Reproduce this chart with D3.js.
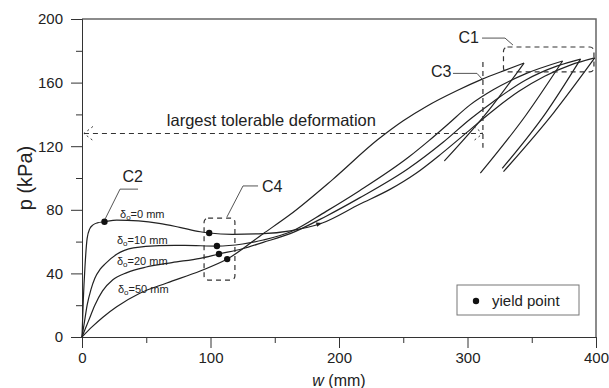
<!DOCTYPE html>
<html>
<head>
<meta charset="utf-8">
<script src="https://cdn.jsdelivr.net/npm/d3@7"></script>
<style>
  body { margin: 0; background: #fff; }
  svg { display: block; font-family: "Liberation Sans", Arial, sans-serif; }
</style>
</head>
<body>
<div id="chart"></div>
<script>
// loading curves, [w (mm), p (kPa)]
const load0 = [[0,0],[1,23],[2.3,44],[4,62],[6,68],[8.6,70.5],[12,71.8],[17.5,72.5],[27,73.5],[44,73],[60,71.5],[76,69],[92,66.2],[99,65.4],[117,64.6],[141,65],[162,66.8],[187,71.7],[216,83.5],[240,93],[260,103],[280,115.5],[300,129],[320,142.5],[340,154.5],[360,164],[380,171],[399,175.5]];
const load10 = [[0,0],[2,10],[4,20],[7,30],[10,37],[14,42.5],[18,46],[27,52],[40,56],[60,57.5],[80,57.6],[105,57.2],[125,58.5],[141,61],[162,66],[190,79],[216,92],[254,113],[270,123.5],[285,134],[302,146],[320,155.5],[345,165.5],[374,173.6]];
const load20 = [[0,0],[5,10],[10,20],[16,29],[24,36],[35,40.5],[50,44],[70,46.8],[92,49.5],[106.6,52.2],[125,55.5],[141,59.5],[162,65],[190,76],[216,87.5],[254,106],[281,122.5],[302,137],[320,148],[345,161.5],[370,170.5],[388,174.8]];
const load50 = [[0,0],[8,6.5],[16.5,12.6],[27,19],[45,27.5],[66,34],[92,41.5],[113,49],[141,65],[162,77],[195,99],[230,124],[250,136],[268,145],[292,155],[311,162],[330,168],[344,172.3]];

// unloading branches
const unload0 = [[328,104],[367,141],[399,175.5]];
const unload10 = [[310,103],[345,139],[374,173.6]];
const unload20 = [[327,106],[361,141],[388,174.8]];
const unload50 = [[282,110.7],[316,142],[344,172.3]];

const yieldPoints = [[17.5,72.5],[99,65.4],[105,57.2],[106.6,52.2],[113,49]];

const curveLabels = [
  { d: '0', w: 29.6, p: 75 },
  { d: '10', w: 27.2, p: 58.5 },
  { d: '20', w: 27.2, p: 45 },
  { d: '50', w: 28, p: 27.5 }
];

const xTicks = [0, 100, 200, 300, 400];
const xMinor = [50, 150, 250, 350];
const yTicks = [0, 40, 80, 120, 160, 200];
const yMinor = [20, 60, 100, 140, 180];

const width = 609, height = 388;
const margin = { top: 19, right: 13, bottom: 51, left: 82 };

const svg = d3.select('#chart').append('svg')
  .attr('width', width)
  .attr('height', height);

const x = d3.scaleLinear().domain([0, 400]).range([margin.left, width - margin.right]);
const y = d3.scaleLinear().domain([0, 200]).range([height - margin.bottom, margin.top]);

const ink = '#222';

// frame (top and right)
svg.append('path')
  .attr('d', `M${x(0)},${y(200)}H${x(400)}V${y(0)}`)
  .attr('fill', 'none')
  .attr('stroke', '#666')
  .attr('stroke-width', 1.5);

// axes
function styleAxis(g) {
  g.select('.domain').attr('stroke', '#333');
  g.selectAll('.tick line').attr('stroke', '#333');
  g.selectAll('.tick text').attr('fill', '#222').attr('font-size', '15px')
    .attr('font-family', '"Liberation Sans", Arial, sans-serif');
}

svg.append('g')
  .attr('transform', `translate(0,${y(0)})`)
  .call(d3.axisBottom(x).tickValues(xMinor).tickSize(6).tickFormat(''))
  .call(styleAxis);
svg.append('g')
  .attr('transform', `translate(0,${y(0)})`)
  .call(d3.axisBottom(x).tickValues(xTicks).tickSize(11).tickPadding(4).tickSizeOuter(0))
  .call(styleAxis);

svg.append('g')
  .attr('transform', `translate(${x(0)},0)`)
  .call(d3.axisLeft(y).tickValues(yMinor).tickSize(6).tickFormat(''))
  .call(styleAxis);
svg.append('g')
  .attr('transform', `translate(${x(0)},0)`)
  .call(d3.axisLeft(y).tickValues(yTicks).tickSize(11).tickPadding(8).tickSizeOuter(0))
  .call(styleAxis);

// axis titles
svg.append('text')
  .attr('transform', `translate(27,${(y(0) + y(200)) / 2}) rotate(-90)`)
  .attr('text-anchor', 'middle')
  .attr('dominant-baseline', 'middle')
  .attr('font-size', '20px')
  .attr('fill', '#222')
  .text('p (kPa)');

const xt = svg.append('text')
  .attr('x', (x(0) + x(400)) / 2)
  .attr('y', height - 2)
  .attr('text-anchor', 'middle')
  .attr('font-size', '16px')
  .attr('fill', '#222');
xt.append('tspan').attr('font-style', 'italic').text('w');
xt.append('tspan').text(' (mm)');

// curves
const line = d3.line()
  .x(d => x(d[0]))
  .y(d => y(d[1]))
  .curve(d3.curveMonotoneX);

[load0, load10, load20, load50, unload0, unload10, unload20, unload50].forEach(data => {
  svg.append('path')
    .datum(data)
    .attr('fill', 'none')
    .attr('stroke', ink)
    .attr('stroke-width', 1.2)
    .attr('d', line);
});

// direction arrow on the δo=0 curve
const arrowAt = load0.find(d => d[0] === 187);
svg.append('path')
  .attr('transform', `translate(${x(arrowAt[0])},${y(arrowAt[1])}) rotate(-16)`)
  .attr('d', 'M0,0 L-6,-2.2 L-6,2.2 Z')
  .attr('fill', ink);

// yield points
svg.selectAll('.yield')
  .data(yieldPoints)
  .enter()
  .append('circle')
  .attr('class', 'yield')
  .attr('cx', d => x(d[0]))
  .attr('cy', d => y(d[1]))
  .attr('r', 3.2)
  .attr('fill', '#111');

// δo labels
curveLabels.forEach(l => {
  const t = svg.append('text')
    .attr('x', x(l.w))
    .attr('y', y(l.p))
    .attr('font-size', '11px')
    .attr('fill', '#222');
  t.append('tspan').text('δ');
  t.append('tspan').attr('font-size', '8px').attr('dy', 2).text('o');
  t.append('tspan').attr('dy', -2).text(`=${l.d} mm`);
});

const dashed = { stroke: '#333', width: 1.2, dash: '5,4' };

// largest tolerable deformation arrow
const tol = { p: 128, w0: 1.5, w1: 312 };
svg.append('line')
  .attr('x1', x(tol.w0)).attr('x2', x(tol.w1))
  .attr('y1', y(tol.p)).attr('y2', y(tol.p))
  .attr('stroke', dashed.stroke)
  .attr('stroke-width', dashed.width)
  .attr('stroke-dasharray', dashed.dash);
[[x(tol.w0), 1], [x(tol.w1), -1]].forEach(([px, s]) => {
  svg.append('path')
    .attr('d', `M${px + s * 9},${y(tol.p) - 7}L${px},${y(tol.p)}L${px + s * 9},${y(tol.p) + 7}`)
    .attr('fill', 'none')
    .attr('stroke', dashed.stroke)
    .attr('stroke-width', 1)
    .attr('stroke-dasharray', '2,3');
});
svg.append('text')
  .attr('x', x(66))
  .attr('y', y(132.5))
  .attr('font-size', '16.5px')
  .attr('fill', '#222')
  .text('largest tolerable deformation');

// C3 vertical dashed line
svg.append('line')
  .attr('x1', x(312)).attr('x2', x(312))
  .attr('y1', y(173)).attr('y2', y(119))
  .attr('stroke', dashed.stroke)
  .attr('stroke-width', dashed.width)
  .attr('stroke-dasharray', dashed.dash);

// dashed boxes C1 and C4
function dashedBox(w0, w1, p0, p1) {
  svg.append('rect')
    .attr('x', x(w0)).attr('y', y(p1))
    .attr('width', x(w1) - x(w0))
    .attr('height', y(p0) - y(p1))
    .attr('rx', 4)
    .attr('fill', 'none')
    .attr('stroke', dashed.stroke)
    .attr('stroke-width', dashed.width)
    .attr('stroke-dasharray', dashed.dash);
}
dashedBox(95, 119, 35.8, 74.8);
dashedBox(328, 398.4, 166.7, 182.4);

// callout labels
const callouts = [
  { text: 'C1', tw: 293, tp: 185, path: [[311.3, 188], [329.2, 188], [335.4, 183.6]] },
  { text: 'C2', tw: 31.5, tp: 97.5, path: [[43.6, 93], [29.6, 93], [18, 74.2]] },
  { text: 'C3', tw: 271.5, tp: 163.5, path: [[288.7, 165.8], [307.4, 165.8], [312, 161.6]] },
  { text: 'C4', tw: 140, tp: 91.2, path: [[137, 95], [125.3, 95], [112.8, 75.5]] }
];
callouts.forEach(c => {
  svg.append('path')
    .datum(c.path)
    .attr('d', d3.line().x(d => x(d[0])).y(d => y(d[1])))
    .attr('fill', 'none')
    .attr('stroke', '#555')
    .attr('stroke-width', 1);
  svg.append('text')
    .attr('x', x(c.tw))
    .attr('y', y(c.tp))
    .attr('font-size', '16px')
    .attr('fill', '#222')
    .text(c.text);
});

// legend
const legend = svg.append('g')
  .attr('transform', `translate(${x(400) - 139},${y(0) - 52})`);
legend.append('rect')
  .attr('width', 122).attr('height', 30)
  .attr('fill', '#fff')
  .attr('stroke', '#777')
  .attr('stroke-width', 1);
legend.append('circle')
  .attr('cx', 19).attr('cy', 16)
  .attr('r', 3.2)
  .attr('fill', '#111');
legend.append('text')
  .attr('x', 35).attr('y', 20.5)
  .attr('font-size', '15px')
  .attr('fill', '#222')
  .text('yield point');
</script>
</body>
</html>
